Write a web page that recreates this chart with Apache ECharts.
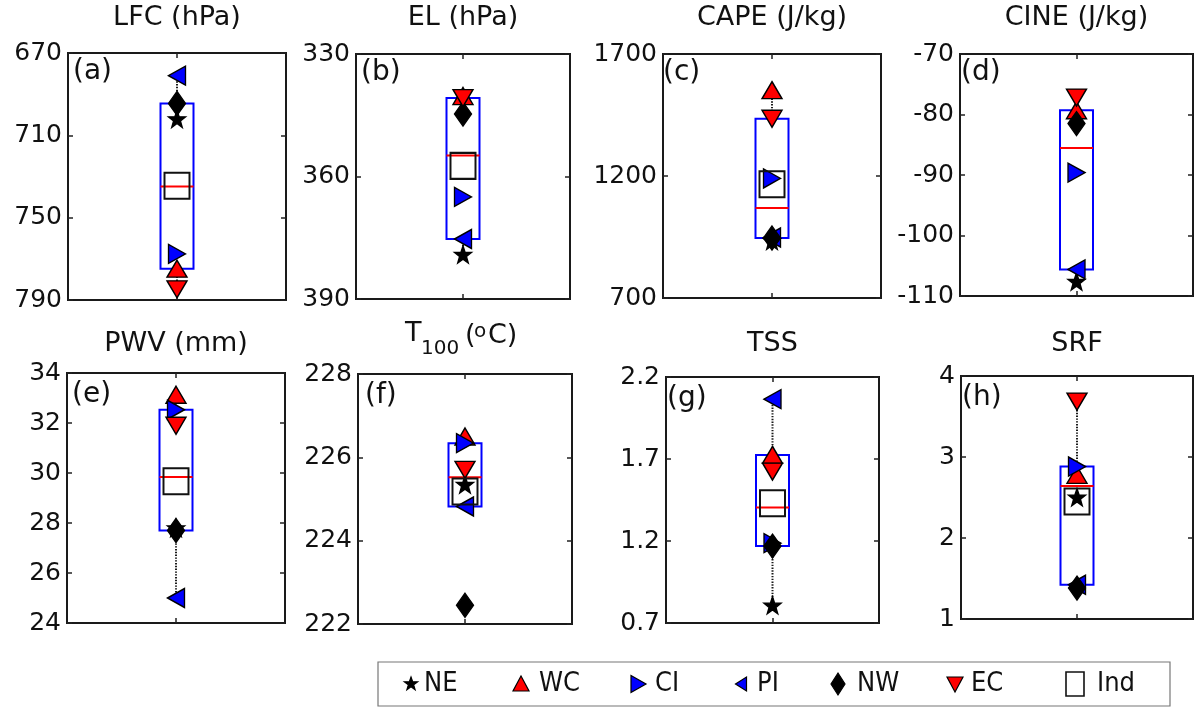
<!DOCTYPE html>
<html>
<head>
<meta charset="utf-8">
<script src="https://cdn.jsdelivr.net/npm/echarts@6/dist/echarts.min.js"></script>
<style>
  html, body { margin: 0; padding: 0; background: #ffffff; }
  #chart { width: 1196px; height: 708px; }
</style>
</head>
<body>
<div id="chart"></div>
<script>
// ---- data: one value per panel (a)..(h) for every region ----
const panelTitles = ['LFC (hPa)', 'EL (hPa)', 'CAPE (J/kg)', 'CINE (J/kg)', 'PWV (mm)', 'T100 (oC)', 'TSS', 'SRF'];
const panelTags   = ['(a)', '(b)', '(c)', '(d)', '(e)', '(f)', '(g)', '(h)'];

const NE  = [702.0, 379.1,  935.0, -107.6, 27.80, 225.35, 0.808, 2.504];
const WC  = [774.8, 340.3, 1552.0,  -79.3, 33.13, 226.50, 1.725, 2.780];
const CI  = [767.6, 365.0, 1190.0,  -89.6, 32.53, 226.34, 1.187, 2.882];
const PI  = [681.0, 375.3,  948.0, -105.6, 25.00, 224.82, 2.065, 1.423];
const NW  = [694.5, 344.7,  946.0,  -81.5, 27.70, 222.45, 1.169, 1.382];
const EC  = [784.8, 340.8, 1434.6,  -77.2, 31.89, 225.70, 1.623, 3.684];
const IND = [734.5, 357.4, 1166.0,   null, 29.67, 225.18, 1.430, 2.450];

// axis ranges and tick labels
const yMin   = [670, 330,  700, -110, 24, 222, 0.7, 1];
const yMax   = [790, 390, 1700,  -70, 34, 228, 2.2, 4];
const yTicks = [
  [670, 710, 750, 790],
  [330, 360, 390],
  [700, 1200, 1700],
  [-110, -100, -90, -80, -70],
  [24, 26, 28, 30, 32, 34],
  [222, 224, 226, 228],
  [0.7, 1.2, 1.7, 2.2],
  [1, 2, 3, 4]
];
const yInverse = [true, true, false, false, false, false, false, false];

const legendNames = ['NE', 'WC', 'CI', 'PI', 'NW', 'EC', 'Ind'];

// ---- layout ----
const FONT = '"DejaVu Sans", Verdana, sans-serif';
const LEGEND_FONT = '"Liberation Sans Narrow", "DejaVu Sans Condensed", "Arial Narrow", sans-serif';
const GRIDS = [
  [68, 53, 218, 247], [356, 54, 214, 245], [663, 54, 218, 244], [960, 54, 233, 242],
  [67, 373, 218, 250], [358, 374, 214, 250], [666, 377, 213, 246], [961, 376, 232, 243]
];
const TAG_DX = [5, 5, 0, 1, 5, 7, 1, 1];
const BOX_W = 33;

// five-pointed star outline as an svg path (unit size)
function starPath() {
  const pts = [];
  for (let k = 0; k < 10; k++) {
    const r = k % 2 === 0 ? 1 : 0.4;
    const a = -Math.PI / 2 + k * Math.PI / 5;
    pts.push((r * Math.cos(a)).toFixed(4) + ',' + (r * Math.sin(a)).toFixed(4));
  }
  return 'path://M' + pts.join('L') + 'Z';
}
const STAR = starPath();

// percentile as used by MATLAB boxplot
function pct(sorted, p) {
  const n = sorted.length;
  const pos = p * n + 0.5;
  if (pos <= 1) return sorted[0];
  if (pos >= n) return sorted[n - 1];
  const lo = Math.floor(pos), f = pos - lo;
  return sorted[lo - 1] + f * (sorted[lo] - sorted[lo - 1]);
}
function boxStats(vals) {
  const s = vals.filter(v => v != null).slice().sort((a, b) => a - b);
  const q1 = pct(s, 0.25), med = pct(s, 0.5), q3 = pct(s, 0.75);
  const iqr = q3 - q1;
  const hi = Math.max(...s.filter(v => v <= q3 + 1.5 * iqr));
  const lo = Math.min(...s.filter(v => v >= q1 - 1.5 * iqr));
  return [1, lo, q1, med, q3, hi];
}

function renderBox(params, api) {
  const x = api.value(0);
  const pLo = api.coord([x, api.value(1)]);
  const pQ1 = api.coord([x, api.value(2)]);
  const pMed = api.coord([x, api.value(3)]);
  const pQ3 = api.coord([x, api.value(4)]);
  const pHi = api.coord([x, api.value(5)]);
  const cx = pMed[0], hw = BOX_W / 2;
  const whisker = { stroke: '#1a1a1a', lineWidth: 2, lineDash: [1.4, 1.4] };
  return {
    type: 'group',
    children: [
      { type: 'line', shape: { x1: cx, y1: pHi[1], x2: cx, y2: pQ3[1] }, style: whisker },
      { type: 'line', shape: { x1: cx, y1: pLo[1], x2: cx, y2: pQ1[1] }, style: whisker },
      { type: 'rect', shape: { x: cx - hw, y: Math.min(pQ1[1], pQ3[1]), width: BOX_W, height: Math.abs(pQ3[1] - pQ1[1]) },
        style: { fill: 'none', stroke: '#0000ff', lineWidth: 2 } },
      { type: 'line', shape: { x1: cx - hw, y1: pMed[1], x2: cx + hw, y2: pMed[1] },
        style: { stroke: '#ff0000', lineWidth: 2 } }
    ]
  };
}

const MARKS = [
  { name: 'NE',  values: NE,  symbol: STAR,       size: [17, 17], rotate: 0,   color: '#000000' },
  { name: 'WC',  values: WC,  symbol: 'triangle', size: [20, 17], rotate: 0,   color: '#ff0000' },
  { name: 'CI',  values: CI,  symbol: 'triangle', size: [19, 17], rotate: -90, color: '#0000ff' },
  { name: 'PI',  values: PI,  symbol: 'triangle', size: [19, 17], rotate: 90,  color: '#0000ff' },
  { name: 'NW',  values: NW,  symbol: 'diamond',  size: [17, 24], rotate: 0,   color: '#000000' },
  { name: 'EC',  values: EC,  symbol: 'triangle', size: [20, 17], rotate: 180, color: '#ff0000' },
  { name: 'Ind', values: IND, symbol: 'rect',     size: [25, 26], rotate: 0,   color: null }
];

const grid = [], xAxis = [], yAxis = [], series = [], graphic = [];

GRIDS.forEach((g, i) => {
  grid.push({ left: g[0], top: g[1], width: g[2], height: g[3], show: true,
              borderColor: '#1a1a1a', borderWidth: 2, backgroundColor: 'transparent' });
  ['bottom', 'top'].forEach(pos => {
    xAxis.push({
      gridIndex: i, type: 'value', position: pos, min: 0.5, max: 1.5, interval: 0.5,
      axisLine: { show: false }, splitLine: { show: false }, axisLabel: { show: false },
      axisTick: { show: true, inside: true, length: 5, customValues: [1], lineStyle: { color: '#222', width: 1.5 } }
    });
  });
  ['left', 'right'].forEach(pos => {
    yAxis.push({
      gridIndex: i, type: 'value', position: pos, min: yMin[i], max: yMax[i], inverse: yInverse[i],
      axisLine: { show: false }, splitLine: { show: false },
      axisTick: { show: true, inside: true, length: 5, customValues: yTicks[i], lineStyle: { color: '#222', width: 1.5 } },
      axisLabel: pos === 'left'
        ? { show: true, customValues: yTicks[i], fontFamily: FONT, fontSize: 25, color: '#111', margin: 6,
            formatter: v => String(v) }
        : { show: false }
    });
  });

  const panelVals = [NE[i], WC[i], CI[i], PI[i], NW[i], EC[i]];
  series.push({
    type: 'custom', name: 'box', xAxisIndex: 2 * i, yAxisIndex: 2 * i, silent: true, z: 1,
    renderItem: renderBox, encode: { x: 0, y: [1, 2, 3, 4, 5] },
    data: [boxStats(panelVals)]
  });

  MARKS.forEach(m => {
    const v = m.values[i];
    series.push({
      type: 'scatter', name: m.name, xAxisIndex: 2 * i, yAxisIndex: 2 * i, z: 2, silent: true,
      symbol: m.symbol, symbolSize: m.size, symbolRotate: m.rotate,
      itemStyle: m.color
        ? { color: m.color, borderColor: '#000', borderWidth: 1.4, opacity: 1 }
        : { color: 'rgba(0,0,0,0)', borderColor: '#111', borderWidth: 2, opacity: 1 },
      data: v == null ? [] : [[1, v]]
    });
  });

  // panel tag
  graphic.push({ type: 'text', left: g[0] + TAG_DX[i], top: g[1] + (i < 4 ? 5 : 8),
                 style: { text: panelTags[i], font: '28px ' + FONT, fill: '#111' } });
});

// panel titles
const titleY = [18, 18, 18, 18, 344, 344, 344, 344];
GRIDS.forEach((g, i) => {
  if (i === 5) return;
  graphic.push({ type: 'text', x: g[0] + g[2] / 2, y: titleY[i],
                 style: { text: panelTitles[i], font: '27px ' + FONT, fill: '#111', align: 'center', verticalAlign: 'middle' } });
});
// T100 (oC) with subscript and superscript
[
  { t: 'T',   x: 405, y: 334, s: 27 },
  { t: '100', x: 421, y: 349, s: 20 },
  { t: '(',   x: 465, y: 336, s: 27 },
  { t: 'o',   x: 474, y: 332, s: 20 },
  { t: 'C)',  x: 488, y: 336, s: 27 }
].forEach(p => graphic.push({ type: 'text', x: p.x, y: p.y,
  style: { text: p.t, font: p.s + 'px ' + FONT, fill: '#111', align: 'left', verticalAlign: 'middle' } }));

// legend
const LEG = { x: 378, y: 662, w: 792, h: 44 };
const legCy = LEG.y + LEG.h / 2;
graphic.push({ type: 'rect', shape: { x: LEG.x, y: LEG.y, width: LEG.w, height: LEG.h },
               style: { fill: '#fff', stroke: '#777', lineWidth: 1.2 }, z: 10 });
const legIcon = [411, 521, 638, 741, 838, 955, 1075];
const legText = [424, 539, 655, 757, 857, 971, 1097];
function starPts(cx, cy, r) {
  const pts = [];
  for (let k = 0; k < 10; k++) {
    const rr = k % 2 === 0 ? r : r * 0.4;
    const a = -Math.PI / 2 + k * Math.PI / 5;
    pts.push([cx + rr * Math.cos(a), cy + rr * Math.sin(a)]);
  }
  return pts;
}
const iconStyle = (fill) => ({ fill: fill, stroke: '#000', lineWidth: 1.2 });
const icons = [
  { type: 'polygon', shape: { points: starPts(legIcon[0], legCy, 7) }, style: iconStyle('#000') },
  { type: 'polygon', shape: { points: [[legIcon[1] - 8, legCy + 7], [legIcon[1] + 8, legCy + 7], [legIcon[1], legCy - 8]] }, style: iconStyle('#ff0000') },
  { type: 'polygon', shape: { points: [[legIcon[2] - 7, legCy - 8.5], [legIcon[2] - 7, legCy + 8.5], [legIcon[2] + 8, legCy]] }, style: iconStyle('#0000ff') },
  { type: 'polygon', shape: { points: [[legIcon[3] + 5.5, legCy - 7], [legIcon[3] + 5.5, legCy + 7], [legIcon[3] - 5.5, legCy]] }, style: iconStyle('#0000ff') },
  { type: 'polygon', shape: { points: [[legIcon[4], legCy - 11], [legIcon[4] + 7, legCy], [legIcon[4], legCy + 11], [legIcon[4] - 7, legCy]] }, style: iconStyle('#000') },
  { type: 'polygon', shape: { points: [[legIcon[5] - 8, legCy - 7], [legIcon[5] + 8, legCy - 7], [legIcon[5], legCy + 8]] }, style: iconStyle('#ff0000') },
  { type: 'rect', shape: { x: legIcon[6] - 9, y: legCy - 12, width: 18, height: 24 }, style: { fill: 'none', stroke: '#111', lineWidth: 1.6 } }
];
icons.forEach(ic => { ic.z = 11; graphic.push(ic); });
legendNames.forEach((n, k) => graphic.push({ type: 'text', x: legText[k], y: legCy, z: 11,
  style: { text: n, font: '27px ' + LEGEND_FONT, fill: '#111', align: 'left', verticalAlign: 'middle' } }));

const chart = echarts.init(document.getElementById('chart'), null, { renderer: 'canvas' });
chart.setOption({
  backgroundColor: '#ffffff',
  animation: false,
  grid, xAxis, yAxis, series, graphic
});
</script>
</body>
</html>
